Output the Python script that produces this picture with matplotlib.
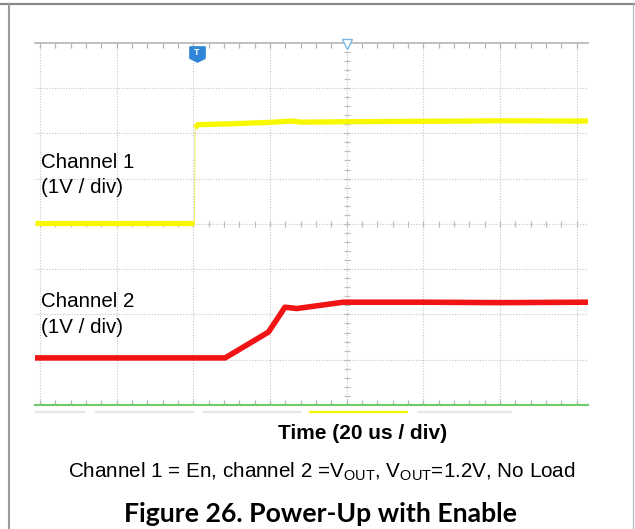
import numpy as np
import matplotlib
matplotlib.use("Agg")
import matplotlib.pyplot as plt
from matplotlib.lines import Line2D

# time in us (20 us / div), level in divisions (1 V / div), 0 = screen centre
ch1_time = [-81.3, -39.7, -39.5, -38.8, -30.0, -20.0, -14.5, -11.6, 0.0, 20.0, 40.0, 62.9]
ch1_level = [0.02, 0.02, 2.12, 2.19, 2.21, 2.24, 2.27, 2.245, 2.255, 2.265, 2.275, 2.27]

ch2_time = [-81.3, -31.7, -20.4, -16.1, -13.0, -0.9, 20.0, 40.0, 62.9]
ch2_level = [-2.96, -2.96, -2.39, -1.84, -1.87, -1.73, -1.73, -1.74, -1.73]

trigger_time = -39.1
x_lim = (-81.27, 62.91)
grid_times = [-80, -60, -40, -20, 0, 20, 40, 60]
grid_levels = [-3, -2, -1, 0, 1, 2, 3]

# scroll bar under the screen: (start, end, colour)
scroll_bar = [(-81.27, -67.97, "#e8e8e8"), (-65.62, -39.81, "#e8e8e8"),
              (-37.73, -11.65, "#e8e8e8"), (-9.96, 15.98, "#f5f500"),
              (18.33, 43.1, "#e8e8e8")]

plt.rcParams["font.family"] = ["Liberation Sans", "DejaVu Sans"]
plt.rcParams["mathtext.fontset"] = "custom"
plt.rcParams["mathtext.rm"] = "Liberation Sans"

W, H = 635, 529
fig = plt.figure(figsize=(W / 100, H / 100), dpi=100)
ax = fig.add_axes([35 / W, 1 - 405 / H, (588 - 35) / W, (405 - 42.7) / H])
ax.set_xlim(*x_lim)
ax.set_ylim(-4, 4)
ax.axis("off")

grid_col = "#c4c4c4"
for t in grid_times:
    ax.axvline(t, color=grid_col, lw=0.8, ls=(0, (1, 1.5)), zorder=1)
for v in grid_levels:
    ax.axhline(v, color=grid_col, lw=0.8, ls=(0, (1, 1.5)), zorder=1)

# top edge and bottom (green) edge
ax.axhline(4, color="#b4b4b4", lw=1.2, clip_on=False, zorder=2)
ax.axhline(-4, color="#6ccc6c", lw=1.5, clip_on=False, zorder=3)

minor_t = np.arange(-80, 63, 4)
minor_v = np.arange(-4, 4.01, 0.2)
ax.plot(minor_t, np.full(len(minor_t), 4), ls="none", marker=3, ms=3.5,
        mec="#b4b4b4", mew=0.9, clip_on=False, zorder=2)
ax.plot(minor_t, np.full(len(minor_t), -4), ls="none", marker=2, ms=3.5,
        mec="#b4b4b4", mew=0.9, clip_on=False, zorder=2)
ax.plot(minor_t, np.zeros(len(minor_t)), ls="none", marker="|", ms=5,
        mec="#bdbdbd", mew=0.9, zorder=2)
ax.plot(np.zeros(len(minor_v)), minor_v, ls="none", marker="_", ms=5,
        mec="#bdbdbd", mew=0.9, zorder=2)

# scroll bar below the screen
for t0, t1, c in scroll_bar:
    ax.plot([t0, t1], [-4.15, -4.15], color=c, lw=1.6, clip_on=False,
            solid_capstyle="butt")

# channel 1 (yellow): thick levels, thin fast edge
ax.plot(ch1_time[1:3], ch1_level[1:3], color="#eeee70", lw=0.8, zorder=4)
ax.plot(ch1_time[:2], ch1_level[:2], color="#f8f800", lw=3.8,
        solid_capstyle="butt", zorder=5)
ax.plot(ch1_time[2:], ch1_level[2:], color="#f8f800", lw=3.8,
        solid_capstyle="butt", solid_joinstyle="round", zorder=5)

# channel 2 (red)
ax.plot(ch2_time, ch2_level, color="#f01414", lw=4.0,
        solid_capstyle="butt", solid_joinstyle="round", zorder=5)

# trigger marker and centre marker
trig_shape = [(-1, 1), (1, 1), (1, -0.5), (0, -1), (-1, -0.5), (-1, 1)]
ax.plot([trigger_time], [3.74], ls="none", marker=trig_shape, ms=11,
        color="#2f86d8", clip_on=False, zorder=6)
ax.text(trigger_time, 3.78, "T", color="white", fontsize=6.5,
        fontweight="bold", ha="center", va="center", zorder=7)
ax.plot([0], [3.97], ls="none", marker="v", ms=7, mfc="white",
        mec="#7ab8e8", mew=1.0, clip_on=False, zorder=6)


def px_text(x, y, s, **kw):
    fig.text(x / W, 1 - y / H, s, va="baseline", **kw)


px_text(40.5, 168, "Channel 1", fontsize=14.8)
px_text(40.5, 193.3, "(1V / div)", fontsize=14.8)
px_text(40.5, 306.7, "Channel 2", fontsize=14.8)
px_text(40.5, 333, "(1V / div)", fontsize=14.8)

px_text(362.3, 439.3, "Time (20 us / div)", fontsize=15, fontweight="bold",
        ha="center")
px_text(322, 477.5,
        r"Channel 1 = En, channel 2 =V$_{\mathrm{OUT}}$, V$_{\mathrm{OUT}}$=1.2V, No Load",
        fontsize=14.9, ha="center")
px_text(320, 522.5, "Figure 26. Power-Up with Enable", fontsize=19.2,
        fontweight="bold", ha="center", family=["Lato", "DejaVu Sans"])

# page frame
fig.add_artist(Line2D([0, 1], [1 - 4.3 / H, 1 - 4.3 / H], color="#8a8a8a",
                      lw=1.6, transform=fig.transFigure))
fig.add_artist(Line2D([8.7 / W, 8.7 / W], [0, 1 - 4.3 / H], color="#9a9a9a",
                      lw=1.5, transform=fig.transFigure))
fig.add_artist(Line2D([632.7 / W, 632.7 / W], [0, 1 - 4.3 / H], color="#b8b8b8",
                      lw=0.9, transform=fig.transFigure))

fig.savefig("out.png", dpi=100)
